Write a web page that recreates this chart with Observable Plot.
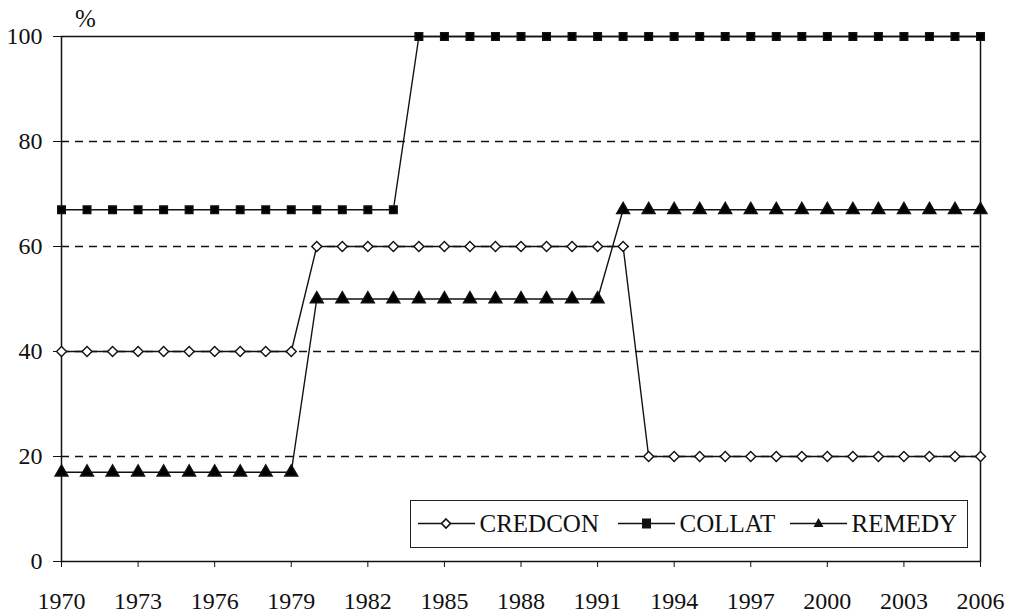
<!DOCTYPE html>
<html><head><meta charset="utf-8">
<script src="https://cdn.jsdelivr.net/npm/d3@7"></script>
<script src="https://cdn.jsdelivr.net/npm/@observablehq/plot@0.6"></script>
<style>
body{margin:0;background:#fff;}
#wrap{position:relative;width:1016px;height:615px;font-family:"Liberation Serif";}
#legend{position:absolute;left:410px;top:500px;width:558px;height:48px;border:1.5px solid #222;box-sizing:border-box;font-size:25px;color:#111;background:#fff;font-family:"Liberation Serif";}
#legend .item{position:absolute;top:0;height:45px;display:flex;align-items:center;gap:5px;white-space:nowrap;}
#pct{position:absolute;left:75px;top:6px;font-size:25px;line-height:25px;font-family:"Liberation Serif";color:#111;}
</style></head>
<body><div id="wrap"><div id="pct">%</div></div>
<script>
const years = d3.range(1970, 2007);
const credcon = [40,40,40,40,40,40,40,40,40,40, 60,60,60,60,60,60,60,60,60,60,60,60,60, 20,20,20,20,20,20,20,20,20,20,20,20,20,20];
const collat  = [67,67,67,67,67,67,67,67,67,67,67,67,67,67, 100,100,100,100,100,100,100,100,100,100,100,100,100,100,100,100,100,100,100,100,100,100,100];
const remedy  = [17,17,17,17,17,17,17,17,17,17, 50,50,50,50,50,50,50,50,50,50,50,50, 67,67,67,67,67,67,67,67,67,67,67,67,67,67,67];
const seriesNames = ["CREDCON","COLLAT","REMEDY"];
const xTicks = d3.range(1970, 2007, 3);
const yTicks = [0,20,40,60,80,100];
const gridTicks = [20,40,60,80];

const data = [];
[credcon, collat, remedy].forEach((arr, i) => arr.forEach((v, j) => data.push({year: years[j], value: v, series: seriesNames[i]})));

const symbols = {CREDCON: "diamond2", COLLAT: "square", REMEDY: "triangle"};
const fills = {CREDCON: "white", COLLAT: "black", REMEDY: "black"};
const radii = {CREDCON: 4.5, COLLAT: 4.3, REMEDY: 4.8};

const chart = Plot.plot({
  width: 1016, height: 615,
  marginLeft: 61, marginRight: 36, marginTop: 36, marginBottom: 54,
  style: {fontFamily: "Liberation Serif", fontSize: "24px", color: "#111", background: "white", overflow: "visible"},
  x: {domain: [1970, 2006], label: null},
  y: {domain: [0, 100], label: null},
  marks: [
    Plot.ruleY(gridTicks, {stroke: "#111", strokeWidth: 1.3, strokeDasharray: "8,6"}),
    Plot.frame({stroke: "#111", strokeWidth: 1.5}),
    Plot.axisX({ticks: xTicks, tickFormat: d => String(d), tickSize: 6, tickPadding: 24, fontSize: 24, stroke: "#111", label: null}),
    Plot.axisY({ticks: yTicks, tickSize: 8, tickPadding: 11, fontSize: 24, stroke: "#111", label: null}),
    Plot.lineY(data, {x: "year", y: "value", z: "series", stroke: "#111", strokeWidth: 1.4}),
    ...seriesNames.map(s => Plot.dot(data.filter(d => d.series === s), {
      x: "year", y: "value", symbol: () => symbols[s], fill: fills[s], stroke: "#111", strokeWidth: 1.4,
      r: radii[s]
    }))
  ]
});
document.getElementById("wrap").prepend(chart);

const leg = document.createElement("div");
leg.id = "legend";
const icon = s => {
  const mk = s === "CREDCON" ? '<path d="M28,3 L32.5,7.5 L28,12 L23.5,7.5Z" fill="white" stroke="#111" stroke-width="1.6"/>'
    : s === "COLLAT" ? '<rect x="24" y="2.5" width="9" height="10" fill="#111"/>'
    : '<path d="M28.5,2 L33.5,11 L23.5,11Z" fill="#111"/>';
  return `<svg width="57" height="15"><line x1="0" y1="7.5" x2="57" y2="7.5" stroke="#111" stroke-width="1.6"/>${mk}</svg>`;
};
const legendLeft = [6.5, 206.5, 378.5];
leg.innerHTML = seriesNames.map((s, i) => `<div class="item" style="left:${legendLeft[i]}px">${icon(s)}<span>${s}</span></div>`).join("");
document.getElementById("wrap").appendChild(leg);
</script></body></html>
